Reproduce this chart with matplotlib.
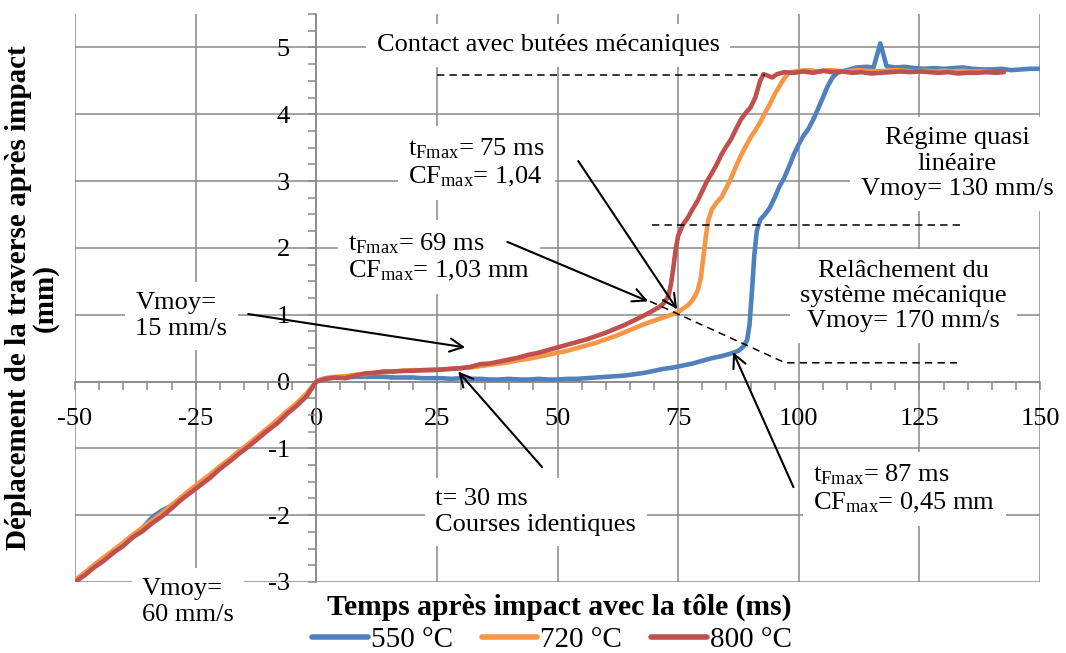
import numpy as np
import matplotlib
matplotlib.use("Agg")
import matplotlib.pyplot as plt
from matplotlib.ticker import MultipleLocator
from matplotlib.lines import Line2D

plt.rcParams['font.family'] = ['Liberation Serif', 'DejaVu Serif']
plt.rcParams['mathtext.fontset'] = 'custom'
plt.rcParams['mathtext.rm'] = 'Liberation Serif'
plt.rcParams['mathtext.it'] = 'Liberation Serif:italic'
plt.rcParams['mathtext.bf'] = 'Liberation Serif:bold'
plt.rcParams['axes.unicode_minus'] = False

# ---- data ----
t_approach = [-50, -48, -46, -44, -42, -40, -38, -36, -34, -32, -30, -28, -26,
              -24, -22, -20, -18, -16, -14, -12, -10, -8, -6, -4, -2, 0]
y550_approach = [-2.99, -2.88, -2.77, -2.66, -2.54, -2.43, -2.31, -2.19, -2.03, -1.93,
                 -1.86, -1.75, -1.64, -1.53, -1.41, -1.29, -1.18, -1.06, -0.95, -0.83,
                 -0.71, -0.60, -0.46, -0.34, -0.20, 0.00]
y720_approach = [-2.97, -2.86, -2.74, -2.63, -2.52, -2.41, -2.29, -2.19, -2.08, -1.97,
                 -1.85, -1.73, -1.61, -1.50, -1.39, -1.27, -1.16, -1.04, -0.93, -0.81,
                 -0.69, -0.57, -0.44, -0.32, -0.18, 0.00]
y800_approach = [-3.00, -2.90, -2.78, -2.68, -2.56, -2.46, -2.33, -2.24, -2.12, -2.02,
                 -1.90, -1.77, -1.66, -1.55, -1.44, -1.31, -1.20, -1.08, -0.97, -0.85,
                 -0.73, -0.62, -0.48, -0.36, -0.22, 0.00]

t550_after = [1, 2, 4, 6, 8, 10, 12, 14, 16, 18, 20, 22, 24, 26, 28, 30, 32, 34, 36, 38,
              40, 42, 44, 46, 48, 50, 52, 54, 56, 58, 60, 62, 64, 66, 68, 70, 72, 74, 76,
              78, 80, 82, 84, 86, 87.5, 88.5, 89.3, 89.8, 90.3, 90.8, 91.3, 92, 93, 94,
              95, 96, 97, 98, 99, 100, 101, 102, 103, 104, 105, 106, 107, 108, 110, 112,
              114, 115.5, 116.9, 118.2, 120, 122, 124, 126, 128, 130, 132, 134, 136, 138,
              140, 142, 144, 146, 148, 150]
y550_after = [0.03, 0.05, 0.06, 0.06, 0.07, 0.07, 0.07, 0.07, 0.06, 0.06, 0.06, 0.05,
              0.05, 0.05, 0.04, 0.05, 0.04, 0.04, 0.03, 0.03, 0.04, 0.03, 0.03, 0.04,
              0.03, 0.03, 0.04, 0.04, 0.05, 0.06, 0.07, 0.08, 0.09, 0.11, 0.13, 0.16,
              0.19, 0.21, 0.24, 0.27, 0.31, 0.35, 0.38, 0.42, 0.46, 0.52, 0.62, 0.85,
              1.35, 1.90, 2.25, 2.42, 2.50, 2.60, 2.75, 2.92, 3.05, 3.22, 3.40, 3.55,
              3.68, 3.78, 3.92, 4.08, 4.25, 4.42, 4.55, 4.62, 4.66, 4.70, 4.71, 4.70,
              5.06, 4.72, 4.70, 4.71, 4.69, 4.68, 4.69, 4.68, 4.69, 4.70, 4.68, 4.67,
              4.67, 4.68, 4.66, 4.67, 4.68, 4.68]

t720_after = [1, 2, 4, 6, 8, 10, 12, 14, 16, 18, 20, 22, 24, 26, 28, 30, 32, 34, 36, 38,
              40, 42, 44, 46, 48, 50, 52, 54, 56, 58, 60, 62, 64, 66, 68, 70, 72, 74, 75,
              76, 77, 78, 79, 79.7, 80.2, 80.7, 81.2, 82, 83, 84, 85, 86, 87, 88, 89, 90,
              91, 92, 93, 94, 95, 96, 97, 98, 100, 102, 104, 106, 108, 110, 112, 114, 116,
              118, 120, 122, 124, 126, 128, 130, 132, 134, 136, 138, 140]
y720_after = [0.03, 0.05, 0.07, 0.08, 0.10, 0.11, 0.13, 0.14, 0.15, 0.16, 0.17, 0.17,
              0.18, 0.18, 0.19, 0.20, 0.21, 0.23, 0.25, 0.27, 0.29, 0.32, 0.34, 0.37,
              0.40, 0.43, 0.46, 0.50, 0.54, 0.58, 0.63, 0.68, 0.74, 0.80, 0.86, 0.91,
              0.96, 1.01, 1.04, 1.09, 1.14, 1.22, 1.35, 1.55, 1.85, 2.15, 2.40, 2.58,
              2.68, 2.76, 2.90, 3.05, 3.22, 3.38, 3.52, 3.65, 3.76, 3.88, 4.02, 4.15,
              4.30, 4.42, 4.54, 4.62, 4.65, 4.66, 4.64, 4.66, 4.65, 4.64, 4.66, 4.65,
              4.64, 4.65, 4.66, 4.65, 4.64, 4.65, 4.64, 4.65, 4.64, 4.65, 4.64, 4.64, 4.63]

t800_after = [1, 2, 4, 6, 8, 10, 12, 14, 16, 18, 20, 22, 24, 26, 28, 30, 32, 34, 36, 38,
              40, 42, 44, 46, 48, 50, 52, 54, 56, 58, 60, 62, 64, 66, 68, 70, 71, 72, 73,
              73.5, 74, 74.5, 75, 76, 77, 78, 79, 80, 81, 82, 83, 84, 85, 86, 87, 88, 89,
              90, 91, 92, 92.7, 93.5, 94.5, 95.5, 97, 99, 101, 103, 105, 107, 109, 111,
              113, 115, 117, 119, 121, 123, 125, 127, 129, 131, 133, 135, 137, 139, 141,
              142.5]
y800_after = [0.02, 0.04, 0.06, 0.05, 0.09, 0.12, 0.13, 0.15, 0.15, 0.16, 0.16, 0.17,
              0.17, 0.18, 0.19, 0.20, 0.22, 0.26, 0.27, 0.30, 0.33, 0.36, 0.40, 0.43,
              0.47, 0.51, 0.55, 0.59, 0.63, 0.68, 0.73, 0.79, 0.85, 0.92, 0.99, 1.07,
              1.11, 1.17, 1.28, 1.45, 1.70, 1.98, 2.18, 2.35, 2.45, 2.58, 2.70, 2.85,
              3.00, 3.12, 3.25, 3.40, 3.52, 3.63, 3.78, 3.92, 4.02, 4.10, 4.25, 4.50,
              4.60, 4.58, 4.55, 4.60, 4.63, 4.62, 4.64, 4.62, 4.65, 4.63, 4.64, 4.62,
              4.63, 4.61, 4.62, 4.63, 4.64, 4.63, 4.64, 4.63, 4.62, 4.63, 4.61, 4.62,
              4.62, 4.63, 4.62, 4.63]

series_labels = ['550 °C', '720 °C', '800 °C']
series_colors = ['#4F81BD', '#F79646', '#C0504D']

x_ticks = [-50, -25, 0, 25, 50, 75, 100, 125, 150]
y_ticks = [-3, -2, -1, 0, 1, 2, 3, 4, 5]

grid_col = '#898989'

fig = plt.figure(figsize=(10.66, 6.53), dpi=100)
ax = fig.add_axes([75 / 1066, 1 - 582 / 653, 965 / 1066, 568 / 653])

series = [
    (t_approach + t550_after, y550_approach + y550_after),
    (t_approach + t720_after, y720_approach + y720_after),
    (t_approach + t800_after, y800_approach + y800_after),
]
for (t, y), col in zip(series, series_colors):
    ax.plot(t, y, color=col, lw=3.3, solid_joinstyle='round', solid_capstyle='round', zorder=4)

ax.set_xlim(-50, 150)
ax.set_ylim(-3, 5.5)
ax.set_xticks(x_ticks)
ax.set_yticks(y_ticks)
ax.xaxis.set_minor_locator(MultipleLocator(5))
ax.yaxis.set_minor_locator(MultipleLocator(0.25))
ax.set_axisbelow(True)
ax.grid(which='major', color=grid_col, lw=1.1)

for side in ['top', 'right']:
    ax.spines[side].set_visible(False)
ax.spines['left'].set_position(('data', 0))
ax.spines['bottom'].set_position(('data', 0))
for side in ['left', 'bottom']:
    ax.spines[side].set_color(grid_col)
    ax.spines[side].set_linewidth(1.1)

ax.tick_params(which='both', direction='out', length=6, width=1.1, color=grid_col)
ax.tick_params(axis='both', which='major', labelsize=19, pad=13)

# white-backed annotation boxes
box = dict(boxstyle='square,pad=0.4', facecolor='white', edgecolor='none')
fs = 19
ax.text(48.1, 5.03, 'Contact avec butées mécaniques', fontsize=fs, ha='center', va='center', bbox=box, zorder=3)
ax.text(132.8, 3.26, 'Régime quasi\nlinéaire\nVmoy= 130 mm/s', fontsize=fs, ha='center', va='center',
        multialignment='center', bbox=box, zorder=3)
ax.text(121.7, 1.28, 'Relâchement du\nsystème mécanique\nVmoy= 170 mm/s', fontsize=fs, ha='center',
        va='center', multialignment='center', bbox=box, zorder=3)
ax.text(19.1, 3.27, 't$_{\\mathrm{Fmax}}$= 75 ms\nCF$_{\\mathrm{max}}$= 1,04', fontsize=fs,
        ha='left', va='center', bbox=box, zorder=3)
ax.text(6.6, 1.86, 't$_{\\mathrm{Fmax}}$= 69 ms\nCF$_{\\mathrm{max}}$= 1,03 mm', fontsize=fs,
        ha='left', va='center', bbox=box, zorder=3)
ax.text(-37.5, 0.98, 'Vmoy=\n15 mm/s', fontsize=fs, ha='left', va='center', bbox=box, zorder=3)
ax.text(24.7, -1.95, 't= 30 ms\nCourses identiques', fontsize=fs, ha='left', va='center', bbox=box, zorder=3)
ax.text(103, -1.61, 't$_{\\mathrm{Fmax}}$= 87 ms\nCF$_{\\mathrm{max}}$= 0,45 mm', fontsize=fs,
        ha='left', va='center', bbox=box, zorder=3)
ax.text(-36.1, -3.30, 'Vmoy=\n60 mm/s', fontsize=fs, ha='left', va='center', bbox=box, zorder=3)

# dashed guide lines
dash_kw = dict(color='black', lw=1.1, dashes=(4.8, 3.4), zorder=5)
ax.plot([25, 93], [4.58, 4.58], **dash_kw)
ax.plot([69.6, 133.5], [2.34, 2.34], **dash_kw)
ax.plot([69.2, 97.2, 132.8], [1.2, 0.28, 0.28], **dash_kw)

# arrows
arrows = [((-14.1, 1.01), (30.9, 0.51)),
          ((46.8, -1.28), (29.4, 0.15)),
          ((39.6, 2.09), (68.8, 1.2)),
          ((54.3, 3.30), (74.8, 1.08)),
          ((98.9, -1.58), (86.4, 0.44))]
for start, end in arrows:
    ax.annotate('', xy=end, xytext=start,
                arrowprops=dict(arrowstyle='->,head_length=0.5,head_width=0.25', color='black',
                                lw=1.5, shrinkA=0, shrinkB=0, mutation_scale=19),
                zorder=6)

# axis titles
fig.text(32 / 1066, 1 - 298 / 653, 'Déplacement de la traverse après impact\n(mm)', rotation=90,
         ha='center', va='center', multialignment='center', fontsize=21, fontweight='bold',
         linespacing=0.95)
fig.text(559.5 / 1066, 1 - 607 / 653, 'Temps après impact avec la tôle (ms)', ha='center', va='center',
         fontsize=21.3, fontweight='bold')

handles = [Line2D([], [], color=c, lw=4, solid_capstyle='round') for c in series_colors]
fig.legend(handles, series_labels, loc='center', bbox_to_anchor=(552 / 1066, 1 - 640 / 653), ncol=3,
           frameon=False, fontsize=21, handlelength=1.9, handletextpad=0.1, columnspacing=1.0,
           borderpad=0, borderaxespad=0)

fig.savefig('out.png', dpi=100)
